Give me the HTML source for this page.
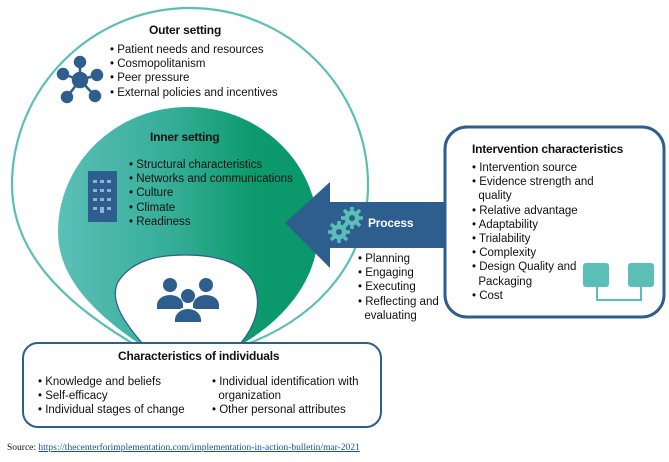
<!DOCTYPE html>
<html><head><meta charset="utf-8"><style>
body{margin:0;width:669px;height:462px;background:#fff;overflow:hidden;position:relative;font-family:"Liberation Sans",Arial,sans-serif;}
svg{position:absolute;left:0;top:0}
.t{position:absolute;font-size:11.5px;line-height:14.2px;color:#111;white-space:nowrap}
.b{font-weight:bold;font-size:12px;letter-spacing:-0.2px}
</style></head><body>
<svg width="669" height="462" viewBox="0 0 669 462">
<defs><linearGradient id="g" x1="0" x2="1" y1="0" y2="0"><stop offset="0" stop-color="#5cbfb8"/><stop offset="0.45" stop-color="#33ad96"/><stop offset="0.75" stop-color="#0d9a6c"/><stop offset="1" stop-color="#0a976a"/></linearGradient></defs>
<path d="M132,343 C60,300 12,250 12,185 C12,88 92,8 190,8 C288,8 368,88 368,185 C368,260 320,315 250,343" fill="none" stroke="#5bbfb8" stroke-width="2.2"/>
<path d="M138,343 C90,310 58,275 58,232 C58,163 116,107 188,107 C260,107 318,163 318,232 C318,275 290,315 244,343 Z" fill="url(#g)"/>
<path d="M143,344 C120,318 110,298 118,282 C132,260 158,255 185,255 C215,255 245,262 254,284 C262,305 256,325 240,344 Z" fill="#fff" stroke="#2e5e8e" stroke-width="1.2"/>
<path d="M285,223 L330,182 L330,202 L446,202 L446,248 L330,248 L330,268 Z" fill="#2e5e8e"/>
<g fill="#5bbfb8">
<circle cx="352" cy="218" r="7.5"/><circle cx="339" cy="232" r="7.5"/>
<g stroke="#5bbfb8" stroke-width="3.5">
<path d="M352,207v22M341,218h22M344,210l16,16M360,210l-16,16"/>
<path d="M339,221v22M328,232h22M331,224l16,16M347,224l-16,16"/>
</g>
<circle cx="352" cy="218" r="3" fill="#2e5e8e"/><circle cx="339" cy="232" r="3" fill="#2e5e8e"/>
</g>
<rect x="445" y="127" width="219" height="190" rx="22" fill="#fff" stroke="#2e5e8e" stroke-width="3"/>
<rect x="583" y="263" width="26" height="24" rx="3" fill="#5bbfb8"/>
<rect x="628" y="263" width="26" height="24" rx="3" fill="#5bbfb8"/>
<path d="M597,287V300H641V287" fill="none" stroke="#5bbfb8" stroke-width="2"/>
<rect x="23" y="343" width="358" height="84" rx="15" fill="#fff" stroke="#2e5e8e" stroke-width="2"/>
<g stroke="#2e5e8e" stroke-width="2.5" fill="#2e5e8e">
<path d="M80,80L80,62M80,80L63,74M80,80L97,75M80,80L67,97M80,80L95,96"/>
<circle cx="80" cy="80" r="7"/><circle cx="80" cy="62" r="5"/><circle cx="63" cy="74" r="5"/><circle cx="97" cy="75" r="5"/><circle cx="67" cy="97" r="5"/><circle cx="95" cy="96" r="5"/>
</g>
<rect x="88" y="171" width="29" height="51" fill="#2e5e8e"/>
<g fill="#8fb3d6">
<rect x="93" y="180" width="4" height="3"/><rect x="100" y="180" width="4" height="3"/><rect x="107" y="180" width="4" height="3"/>
<rect x="93" y="189" width="4" height="3"/><rect x="100" y="189" width="4" height="3"/><rect x="107" y="189" width="4" height="3"/>
<rect x="93" y="198" width="4" height="3"/><rect x="100" y="198" width="4" height="3"/><rect x="107" y="198" width="4" height="3"/>
<rect x="93" y="207" width="4" height="3"/><rect x="100" y="207" width="4" height="6"/><rect x="107" y="207" width="4" height="3"/>
</g>
<g fill="#2e5e8e">
<circle cx="170" cy="285" r="7"/><circle cx="206" cy="285" r="7"/><circle cx="188" cy="296" r="7"/>
<path d="M157,305a13,10 0 0 1 26,0v4h-26z"/><path d="M193,305a13,10 0 0 1 26,0v4h-26z"/>
<path d="M174,320a14,12 0 0 1 28,0v3h-28z" stroke="#fff" stroke-width="2"/>
</g>
</svg>
<div class="t b" style="left:149px;top:23px">Outer setting</div>
<div class="t" style="left:110px;top:43px">• Patient needs and resources<br>• Cosmopolitanism<br>• Peer pressure<br>• External policies and incentives</div>
<div class="t b" style="left:150px;top:130px">Inner setting</div>
<div class="t" style="left:129px;top:158px">• Structural characteristics<br>• Networks and communications<br>• Culture<br>• Climate<br>• Readiness</div>
<div class="t b" style="left:368px;top:216px;color:#fff">Process</div>
<div class="t" style="left:358px;top:252px">• Planning<br>• Engaging<br>• Executing<br>• Reflecting and<br>&nbsp;&nbsp;evaluating</div>
<div class="t b" style="left:472px;top:142px">Intervention characteristics</div>
<div class="t" style="left:472px;top:161px">• Intervention source<br>• Evidence strength and<br>&nbsp;&nbsp;quality<br>• Relative advantage<br>• Adaptability<br>• Trialability<br>• Complexity<br>• Design Quality and<br>&nbsp;&nbsp;Packaging<br>• Cost</div>
<div class="t b" style="left:118px;top:349px">Characteristics of individuals</div>
<div class="t" style="left:38px;top:375px">• Knowledge and beliefs<br>• Self-efficacy<br>• Individual stages of change</div>
<div class="t" style="left:212px;top:375px">• Individual identification with<br>&nbsp;&nbsp;organization<br>• Other personal attributes</div>
<div class="t" style="left:7px;top:441px;font-family:'Liberation Serif',serif;font-size:9.5px">Source: <span style="color:#1a4fa0;text-decoration:underline">https://thecenterforimplementation.com/implementation-in-action-bulletin/mar-2021</span></div>
</body></html>
